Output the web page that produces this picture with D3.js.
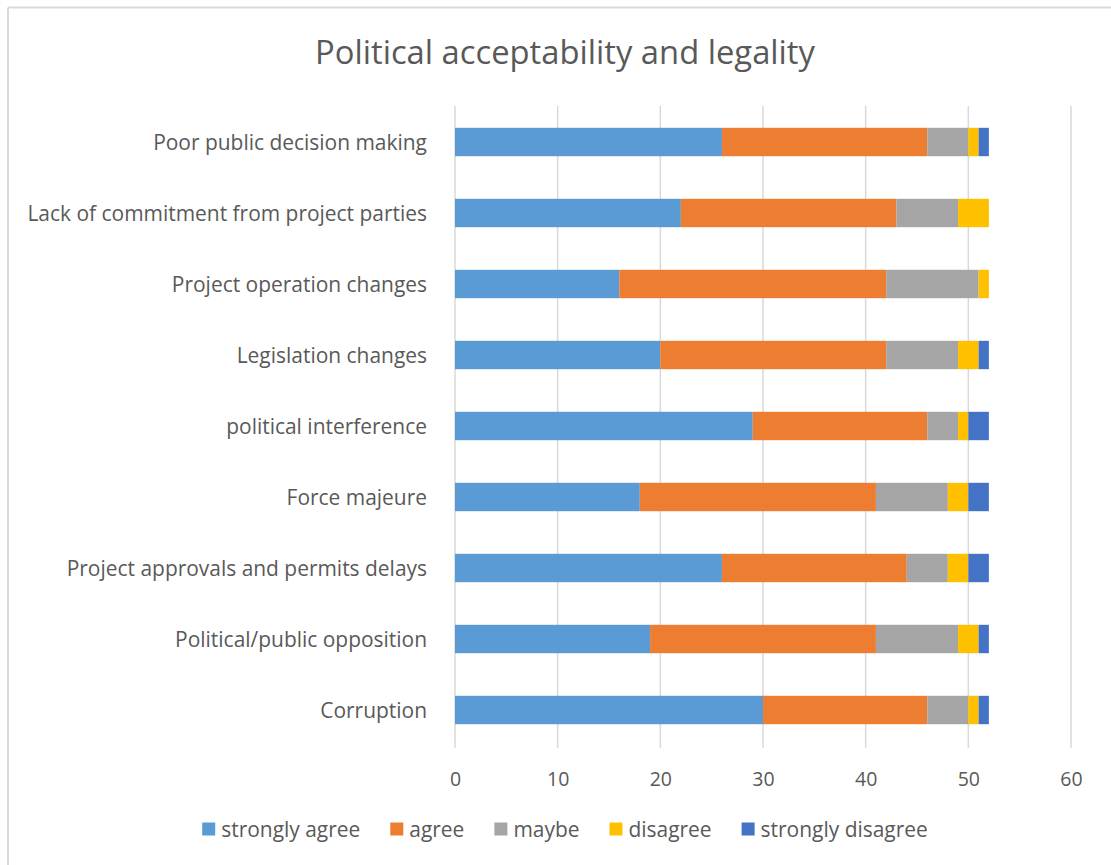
<!DOCTYPE html>
<html>
<head>
<meta charset="utf-8">
<script src="https://cdn.jsdelivr.net/npm/d3@7"></script>
<style>
  html, body { margin: 0; padding: 0; background: #fff; }
  svg { display: block; }
  text { font-family: "Open Sans", "Noto Sans", sans-serif; fill: #595959; }
</style>
</head>
<body>
<svg id="chart" width="1111" height="865"></svg>
<script>
// ---- data (top-to-bottom display order) ----
const categories = [
  "Poor public decision making",
  "Lack of commitment from project parties",
  "Project operation changes",
  "Legislation changes",
  "political interference",
  "Force majeure",
  "Project approvals and permits delays",
  "Political/public opposition",
  "Corruption"
];
const seriesNames = ["strongly agree", "agree", "maybe", "disagree", "strongly disagree"];
const stronglyAgree    = [26, 22, 16, 20, 29, 18, 26, 19, 30];
const agree            = [20, 21, 26, 22, 17, 23, 18, 22, 16];
const maybe            = [4, 6, 9, 7, 3, 7, 4, 8, 4];
const disagree         = [1, 3, 1, 2, 1, 2, 2, 2, 1];
const stronglyDisagree = [1, 0, 0, 1, 2, 2, 2, 1, 1];
const xTicks = [0, 10, 20, 30, 40, 50, 60];
const colors = ["#5B9BD5", "#ED7D31", "#A5A5A5", "#FFC000", "#4472C4"];
const title = "Political acceptability and legality";

// ---- build table ----
const seriesValues = [stronglyAgree, agree, maybe, disagree, stronglyDisagree];
const table = categories.map((c, i) => {
  const row = { category: c };
  seriesNames.forEach((s, j) => row[s] = seriesValues[j][i]);
  return row;
});
const stacked = d3.stack().keys(seriesNames)(table);

const svg = d3.select("#chart");

// chart border (only top/left visible in the reference)
svg.append("line").attr("x1", 8).attr("x2", 1111).attr("y1", 7.5).attr("y2", 7.5)
  .attr("stroke", "#d9d9d9").attr("stroke-width", 2);
svg.append("line").attr("x1", 8).attr("x2", 8).attr("y1", 7.5).attr("y2", 865)
  .attr("stroke", "#d9d9d9").attr("stroke-width", 2);

const x = d3.scaleLinear().domain([0, 60]).range([455, 1071]);
const y = d3.scaleBand().domain(categories).range([106.5, 745.5])
  .paddingInner(0.6).paddingOuter(0.3);

// helper: fit text font size to target width
function fitSize(sel, targetWidth, startSize) {
  sel.style("font-size", startSize + "px");
  let w = 0;
  sel.each(function() { w = Math.max(w, this.getComputedTextLength()); });
  const s = startSize * targetWidth / w;
  sel.style("font-size", s + "px");
  return s;
}

// title
const t = svg.append("text").attr("x", 565).attr("y", 51)
  .attr("text-anchor", "middle").attr("dominant-baseline", "central")
  .text(title);
fitSize(t, 500, 30);

// gridlines
svg.append("g").selectAll("line").data(xTicks).join("line")
  .attr("x1", d => x(d)).attr("x2", d => x(d))
  .attr("y1", 106).attr("y2", 748)
  .attr("stroke", "#d9d9d9").attr("stroke-width", 1.5);

// bars
svg.append("g").selectAll("g").data(stacked).join("g")
  .attr("fill", (d, i) => colors[i])
  .selectAll("rect").data(d => d).join("rect")
  .attr("x", d => x(d[0]))
  .attr("width", d => x(d[1]) - x(d[0]))
  .attr("y", d => y(d.data.category))
  .attr("height", y.bandwidth());

// x axis tick labels
const xAxis = d3.axisBottom(x).tickValues(xTicks).tickSize(0).tickPadding(0);
const gx = svg.append("g").attr("transform", "translate(0,767)").call(xAxis);
gx.select(".domain").remove();
gx.selectAll("text").attr("dy", null).attr("dominant-baseline", "central").attr("y", 11)
  .style("font-size", "19.5px").style("font-family", '"Open Sans", sans-serif').attr("fill", "#595959");

// category labels
const yAxis = d3.axisLeft(y).tickSize(0).tickPadding(0);
const gy = svg.append("g").attr("transform", "translate(427,0)").call(yAxis);
gy.select(".domain").remove();
const labels = gy.selectAll("text").attr("dy", null).attr("dominant-baseline", "central")
  .attr("x", 0).attr("fill", "#595959").style("font-family", '"Open Sans", sans-serif');
const labSize = fitSize(labels, 400, 20);

// legend
const legY = 829;
const legFont = labSize;
const leg = svg.append("g");
const items = leg.selectAll("g").data(seriesNames).join("g");
items.append("rect").attr("width", 13).attr("height", 13).attr("y", legY - 6.5)
  .attr("fill", (d, i) => colors[i]);
items.append("text").attr("x", 19).attr("y", legY).attr("dominant-baseline", "central")
  .style("font-size", legFont + "px").text(d => d);
let widths = [];
items.each(function() { widths.push(19 + d3.select(this).select("text").node().getComputedTextLength()); });
const gap = 30;
const total = d3.sum(widths) + gap * (widths.length - 1);
let cx = 565 - total / 2;
items.each(function(d, i) {
  d3.select(this).attr("transform", `translate(${cx},0)`);
  cx += widths[i] + gap;
});
</script>
</body>
</html>
